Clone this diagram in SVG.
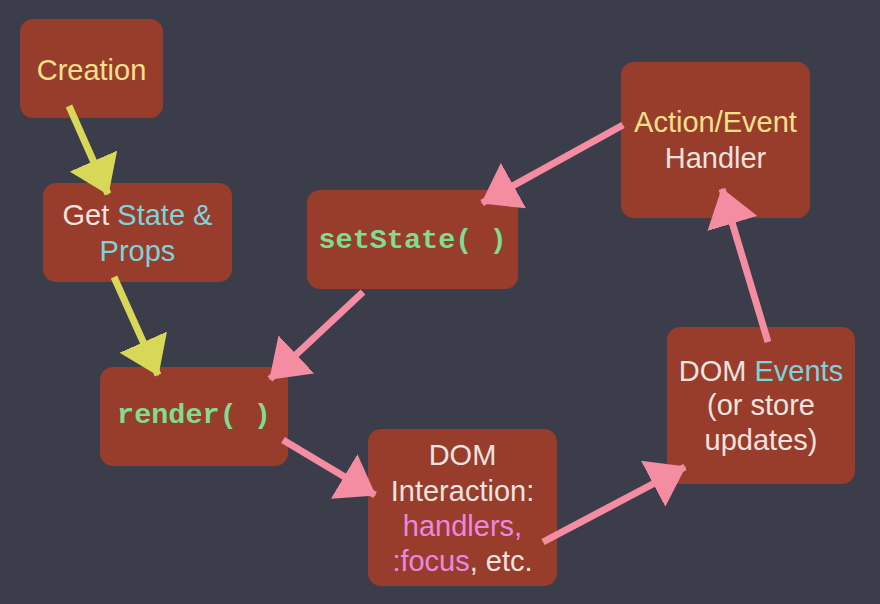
<svg xmlns="http://www.w3.org/2000/svg" width="880" height="604" viewBox="0 0 880 604">
<style>
.box{fill:#983c2c}
.t{font-family:"Liberation Sans",Arial,Helvetica,sans-serif;font-size:29px;text-anchor:middle}
.m{font-family:"Liberation Mono","Courier New",monospace;font-size:28.5px;font-weight:bold;text-anchor:middle;fill:#7fdc90}
.y{fill:#f5e08a}
.w{fill:#efe2df}
.c{fill:#7dd3db}
.p{fill:#ea88e0}
.ya{stroke:#d8d858;stroke-width:7;fill:none}
.pa{stroke:#f48ca2;stroke-width:7;fill:none}
</style>
<defs>
<marker id="ay" markerUnits="userSpaceOnUse" markerWidth="37" markerHeight="52" viewBox="0 0 37 52" refX="36" refY="26" orient="auto"><path d="M0,0 L37,26 L0,52 z" fill="#d8d858"/></marker>
<marker id="ap" markerUnits="userSpaceOnUse" markerWidth="37" markerHeight="52" viewBox="0 0 37 52" refX="36" refY="26" orient="auto"><path d="M0,0 L37,26 L0,52 z" fill="#f48ca2"/></marker>
</defs>
<rect width="880" height="604" fill="#3b3d4a"/>
<g id="creation"><rect class="box" x="20" y="19" width="143" height="99" rx="13"/><text class="t y" x="91.5" y="80">Creation</text></g>
<g id="getstate"><rect class="box" x="43" y="183" width="189" height="99" rx="13"/><text class="t" x="137.5" y="225"><tspan class="w">Get </tspan><tspan class="c">State &amp;</tspan></text><text class="t c" x="137.5" y="261">Props</text></g>
<g id="setstate"><rect class="box" x="307" y="190" width="211" height="99" rx="13"/><text class="m" x="412.5" y="248">setState( )</text></g>
<g id="render"><rect class="box" x="100" y="367" width="188" height="99" rx="13"/><text class="m" x="194" y="423">render( )</text></g>
<g id="dominteraction"><rect class="box" x="368" y="429" width="189" height="157" rx="13"/><text class="t w" x="462.5" y="465">DOM</text><text class="t w" x="462.5" y="501">Interaction:</text><text class="t p" x="462.5" y="536">handlers,</text><text class="t" x="462.5" y="571"><tspan class="p">:focus</tspan><tspan class="w">, etc.</tspan></text></g>
<g id="actionevent"><rect class="box" x="621" y="62" width="189" height="156" rx="13"/><text class="t y" x="715.5" y="132">Action/Event</text><text class="t w" x="715.5" y="168">Handler</text></g>
<g id="domevents"><rect class="box" x="667" y="327" width="188" height="157" rx="13"/><text class="t" x="761" y="381"><tspan class="w">DOM </tspan><tspan class="c">Events</tspan></text><text class="t w" x="761" y="415">(or store</text><text class="t w" x="761" y="450">updates)</text></g>
<g id="connectors">
<line class="ya" x1="69" y1="106" x2="108" y2="194" marker-end="url(#ay)"/>
<line class="ya" x1="114" y1="277" x2="158" y2="375" marker-end="url(#ay)"/>
<line class="pa" x1="623" y1="125" x2="482" y2="203" marker-end="url(#ap)"/>
<line class="pa" x1="363" y1="292" x2="270" y2="379" marker-end="url(#ap)"/>
<line class="pa" x1="283" y1="440" x2="375" y2="495" marker-end="url(#ap)"/>
<line class="pa" x1="543" y1="542" x2="685" y2="467" marker-end="url(#ap)"/>
<line class="pa" x1="768" y1="342" x2="722" y2="189" marker-end="url(#ap)"/>
</g>
</svg>
